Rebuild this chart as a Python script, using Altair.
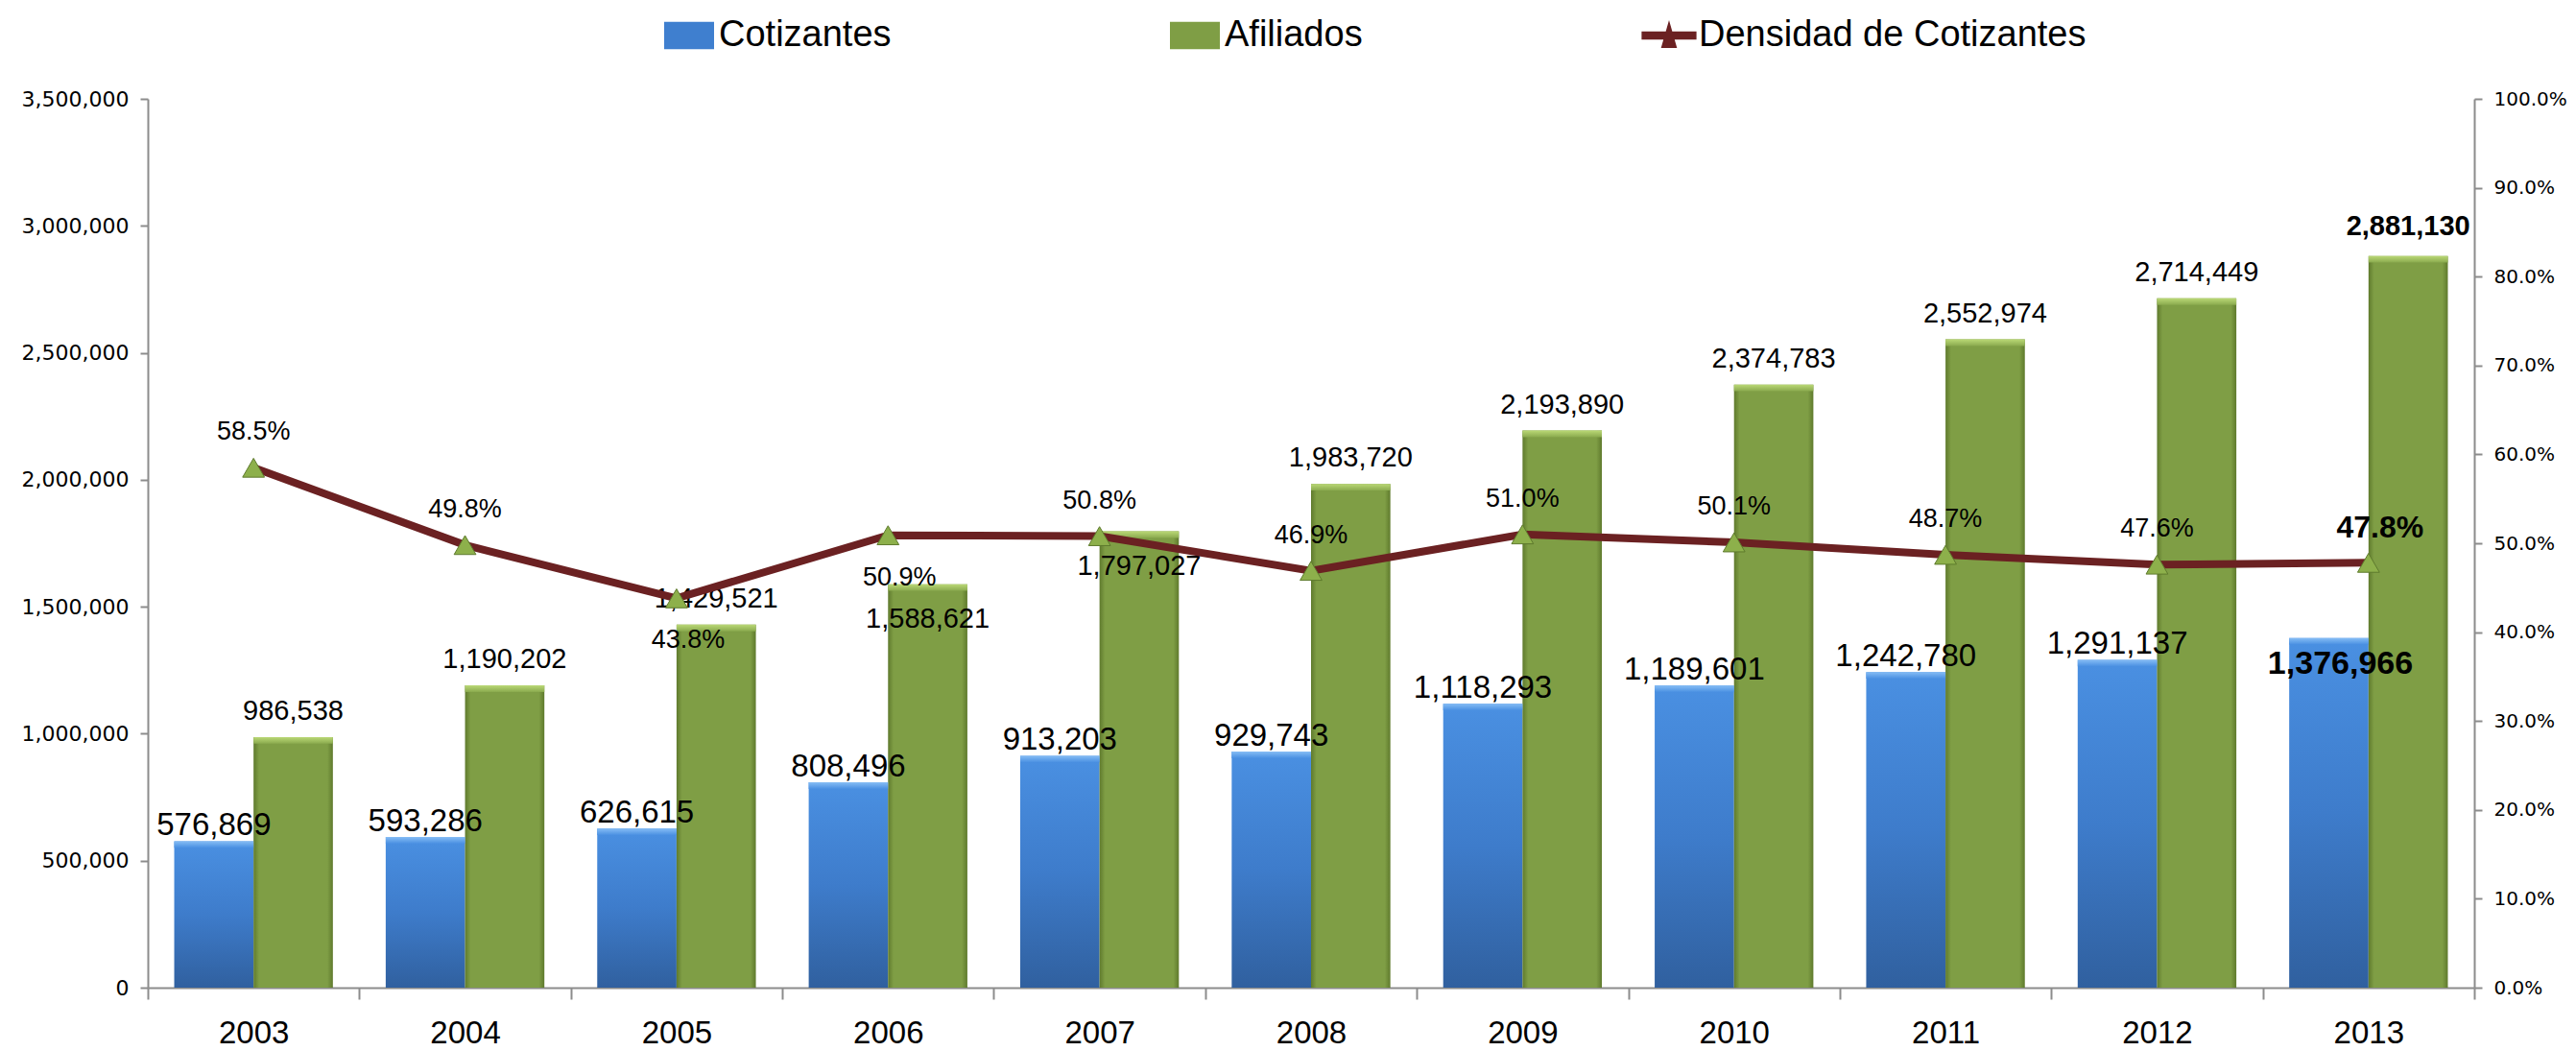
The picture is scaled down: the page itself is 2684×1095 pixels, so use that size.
import altair as alt
import pandas as pd

# ---------------- data ----------------
years = ["2003", "2004", "2005", "2006", "2007", "2008", "2009", "2010", "2011", "2012", "2013"]
cotizantes = [576869, 593286, 626615, 808496, 913203, 929743, 1118293, 1189601, 1242780, 1291137, 1376966]
afiliados = [986538, 1190202, 1429521, 1588621, 1797027, 1983720, 2193890, 2374783, 2552974, 2714449, 2881130]
densidad = [0.585, 0.498, 0.438, 0.509, 0.508, 0.469, 0.510, 0.501, 0.487, 0.476, 0.478]

bar_series = ["Cotizantes", "Afiliados"]
legend_names = ["Cotizantes", "Afiliados", "Densidad de Cotizantes"]

# label placement rules (as in the original)
afil_inside_years = ["2006", "2007"]
dens_below_years = ["2005", "2006"]
highlight_year = "2013"

df_bars = pd.DataFrame({
    "anio": years * 2,
    "serie": ["Cotizantes"] * len(years) + ["Afiliados"] * len(years),
    "valor": cotizantes + afiliados,
})
df_line = pd.DataFrame({"anio": years, "dens": densidad, "serie": "Densidad de Cotizantes"})

# ---------------- styles ----------------
BLUE = "#3F7FCF"
GREEN = "#7F9E45"
MAROON = "#6B2122"
TRI = "#8DB04B"
AXIS_GREY = "#8C8C8C"
FONT = "Liberation Sans"

blue_grad = alt.Gradient(gradient="linear", x1=0, x2=0, y1=0, y2=1,
                         stops=[alt.GradientStop(offset=0, color="#4A90E2"),
                                alt.GradientStop(offset=0.5, color="#3E7CCB"),
                                alt.GradientStop(offset=1, color="#30609F")])
green_grad = alt.Gradient(gradient="linear", x1=0, x2=1, y1=0, y2=0,
                          stops=[alt.GradientStop(offset=0, color="#5F7A2D"),
                                 alt.GradientStop(offset=0.07, color="#7F9E45"),
                                 alt.GradientStop(offset=0.93, color="#7F9E45"),
                                 alt.GradientStop(offset=1, color="#5F7A2D")])
blue_top = alt.Gradient(gradient="linear", x1=0, x2=0, y1=0, y2=1,
                        stops=[alt.GradientStop(offset=0, color="#86BDF5"),
                               alt.GradientStop(offset=1, color="#4A90E2")])
green_top = alt.Gradient(gradient="linear", x1=0, x2=0, y1=0, y2=1,
                         stops=[alt.GradientStop(offset=0, color="#BAD876"),
                                alt.GradientStop(offset=1, color="#8AAA4E")])

x_enc = alt.X("anio:N", sort=years,
              scale=alt.Scale(paddingInner=0, paddingOuter=0),
              axis=alt.Axis(title=None, labelAngle=0, labelFont=FONT, labelFontSize=33,
                            labelColor="black", labelBaseline="alphabetic", labelPadding=45,
                            tickBand="extent",
                            tickSize=12, tickWidth=2, tickColor=AXIS_GREY,
                            domainColor=AXIS_GREY, domainWidth=2, grid=False))
xoff = alt.XOffset("serie:N", sort=bar_series,
                   scale=alt.Scale(domain=bar_series, paddingOuter=0.333, paddingInner=0))
y_enc = alt.Y("valor:Q",
              scale=alt.Scale(domain=[0, 3500000], nice=False),
              axis=alt.Axis(title=None, values=list(range(0, 3500001, 500000)), format=",.0f",
                            labelFont="DejaVu Sans", labelFontSize=22, labelColor="black",
                            tickSize=8, tickWidth=2, tickColor=AXIS_GREY, labelPadding=12,
                            domainColor=AXIS_GREY, domainWidth=2, grid=False))
y2_enc = alt.Y("dens:Q",
               scale=alt.Scale(domain=[0, 1], nice=False),
               axis=alt.Axis(title=None, orient="right", values=[i / 10 for i in range(11)],
                             format=".1%", labelFont="DejaVu Sans", labelFontSize=20,
                             labelColor="black", tickSize=8, tickWidth=2, tickColor=AXIS_GREY,
                             labelPadding=12, domainColor=AXIS_GREY, domainWidth=2, grid=False))

base = alt.Chart(df_bars).encode(x=x_enc, xOffset=xoff, y=y_enc)

blue_bars = base.transform_filter("datum.serie == 'Cotizantes'").mark_bar(color=blue_grad)
green_bars = base.transform_filter("datum.serie == 'Afiliados'").mark_bar(color=green_grad)
blue_bevel = base.transform_filter("datum.serie == 'Cotizantes'").transform_calculate(
    v2="datum.valor - 26000").mark_bar(color=blue_top).encode(y2="v2:Q")
green_bevel = base.transform_filter("datum.serie == 'Afiliados'").transform_calculate(
    v2="datum.valor - 26000").mark_bar(color=green_top).encode(y2="v2:Q")

txt = alt.Text("valor:Q", format=",")
cot_lab = base.transform_filter(
    f"datum.serie == 'Cotizantes' && datum.anio != '{highlight_year}'").mark_text(
    font=FONT, fontSize=33, baseline="alphabetic", dy=-6, color="black").encode(text=txt)
cot_lab_hl = base.transform_filter(
    f"datum.serie == 'Cotizantes' && datum.anio == '{highlight_year}'").mark_text(
    font=FONT, fontSize=34, fontWeight="bold", baseline="alphabetic", dy=37, dx=12,
    color="black").encode(text=txt)
inside_expr = " || ".join([f"datum.anio == '{a}'" for a in afil_inside_years])
afil_lab = base.transform_filter(
    f"datum.serie == 'Afiliados' && datum.anio != '{highlight_year}' && !({inside_expr})").mark_text(
    font=FONT, fontSize=29, baseline="alphabetic", dy=-18, color="black").encode(text=txt)
afil_lab_in = base.transform_filter(
    f"datum.serie == 'Afiliados' && ({inside_expr})").mark_text(
    font=FONT, fontSize=29, baseline="alphabetic", dy=45, color="black").encode(text=txt)
afil_lab_hl = base.transform_filter(
    f"datum.serie == 'Afiliados' && datum.anio == '{highlight_year}'").mark_text(
    font=FONT, fontSize=29, fontWeight="bold", baseline="alphabetic", dy=-22, color="black").encode(text=txt)

bars_group = alt.layer(blue_bars, green_bars, blue_bevel, green_bevel,
                       cot_lab, cot_lab_hl, afil_lab, afil_lab_in, afil_lab_hl)

# ---------------- line ----------------
lbase = alt.Chart(df_line).encode(x=x_enc, y=y2_enc)
line = lbase.mark_line(color=MAROON, strokeWidth=8)
points = lbase.mark_point(shape="triangle-up", filled=True, size=520, fill=TRI,
                          stroke="#5E7A2D", strokeWidth=1, opacity=1)
ptxt = alt.Text("dens:Q", format=".1%")
below_expr = " || ".join([f"datum.anio == '{a}'" for a in dens_below_years])
dens_lab = lbase.transform_filter(
    f"datum.anio != '{highlight_year}' && !({below_expr})").mark_text(
    font=FONT, fontSize=27, baseline="alphabetic", dy=-29, color="black").encode(text=ptxt)
dens_lab_below = lbase.transform_filter(below_expr).mark_text(
    font=FONT, fontSize=27, baseline="alphabetic", dy=52, dx=12, color="black").encode(text=ptxt)
dens_lab_hl = lbase.transform_filter(f"datum.anio == '{highlight_year}'").mark_text(
    font=FONT, fontSize=32, fontWeight="bold", baseline="alphabetic", dy=-26, dx=12,
    color="black").encode(text=ptxt)

rect_path = "M-1,-0.55L1,-0.55L1,0.55L-1,0.55Z"
dens_path = "M-1.1,-0.16L1.1,-0.16L1.1,0.16L-1.1,0.16Z M-0.32,0.5L0,-0.62L0.32,0.5Z"
leg = alt.Legend(title=None, orient="none", legendX=538, legendY=-92, direction="horizontal",
                 labelFont=FONT, labelFontSize=38, labelColor="black", labelLimit=800,
                 symbolSize=2704, columnPadding=290, labelOffset=5, symbolStrokeWidth=0)
legend_layer = lbase.transform_filter("false").mark_point(filled=True, opacity=1).encode(
    color=alt.Color("serie:N", scale=alt.Scale(domain=legend_names, range=[BLUE, GREEN, MAROON]), legend=leg),
    shape=alt.Shape("serie:N", scale=alt.Scale(domain=legend_names, range=[rect_path, rect_path, dens_path]), legend=leg),
)

line_group = alt.layer(line, points, dens_lab, dens_lab_below, dens_lab_hl, legend_layer)

chart = alt.layer(bars_group, line_group).resolve_scale(y="independent").properties(
    width=2424, height=926,
    autosize=alt.AutoSizeParams(type="none"),
    padding={"left": 146, "top": 95, "right": 98, "bottom": 66},
    background="white",
).configure_view(stroke=None)

chart.save("out.html", embed_options={"renderer": "svg", "actions": False})
